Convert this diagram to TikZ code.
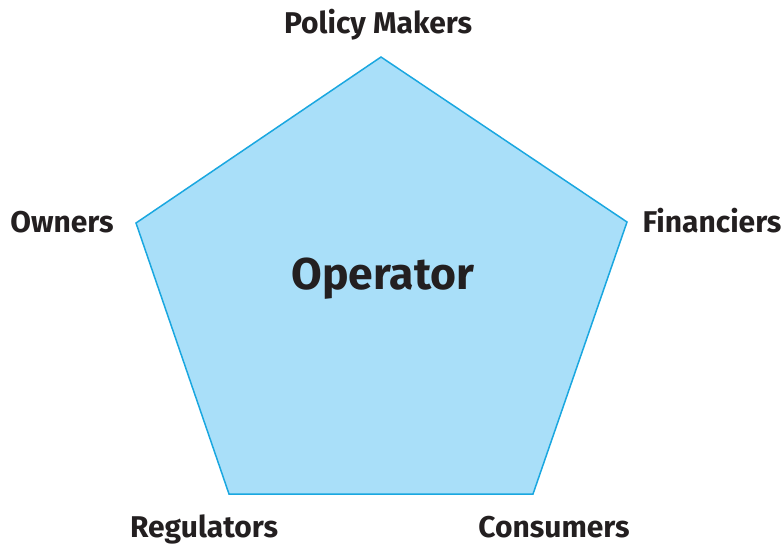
\documentclass[tikz,border=0pt]{standalone}
\usepackage{fontspec}
\setmainfont{Fira Sans}
\definecolor{pentfill}{HTML}{A9DFF9}
\definecolor{pentline}{HTML}{1AA7E0}
\definecolor{txt}{HTML}{231F20}
\begin{document}
\begin{tikzpicture}[x=1pt,y=-1pt,
  lbl/.style={text=txt,font=\fontsize{30}{33}\selectfont\bfseries,inner sep=0pt},
  big/.style={text=txt,font=\fontsize{44.5}{48}\selectfont\bfseries,inner sep=0pt}]
\useasboundingbox (0,0) rectangle (783,544);
\coordinate (T) at (381,57);
\coordinate (R) at (627,222);
\coordinate (BR) at (533,494);
\coordinate (BL) at (229,494);
\coordinate (L) at (136,223);
\draw[pentline,fill=pentfill,line width=1.5pt,line join=miter] (T) -- (R) -- (BR) -- (BL) -- (L) -- cycle;
\node[lbl,anchor=base] (pm) at (378,33) {Policy Makers};
\node[lbl,anchor=base] (ow) at (62,232) {Owners};
\node[lbl,anchor=base] (fi) at (712,232) {Financiers};
\node[lbl,anchor=base] (re) at (204,537) {Regulators};
\node[lbl,anchor=base] (co) at (554,537) {Consumers};
\node[big,anchor=base] (op) at (383,289) {Operator};
\end{tikzpicture}
\end{document}
